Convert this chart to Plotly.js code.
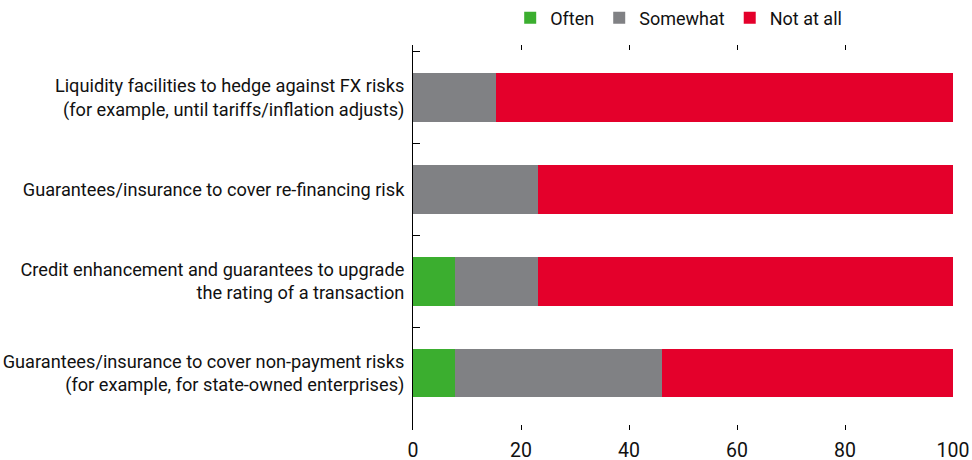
<!DOCTYPE html>
<html>
<head>
<meta charset="utf-8">
<script src="https://cdn.plot.ly/plotly-3.0.1.min.js"></script>
<style>html,body{margin:0;padding:0;background:#fff;}#chart{width:972px;height:460px;}</style>
</head>
<body>
<div id="chart"></div>
<script>
const categories = [
  "Liquidity facilities to hedge against FX risks<br>(for example, until tariffs/inflation adjusts)",
  "Guarantees/insurance to cover re-financing risk",
  "Credit enhancement and guarantees to upgrade<br>the rating of a transaction",
  "Guarantees/insurance to cover non-payment risks<br>(for example, for state-owned enterprises)"
];
const often = [0, 0, 7.7, 7.7];
const somewhat = [15.4, 23.1, 15.4, 38.5];
const notAtAll = [84.6, 76.9, 76.9, 53.8];
const xTicks = [0, 20, 40, 60, 80, 100];

const FONT = 'Roboto, "DejaVu Sans Condensed", Arial, sans-serif';

function mk(name, vals, color) {
  return {type: 'bar', orientation: 'h', name: name, x: vals, y: categories,
          marker: {color: color, line: {width: 0}}, hoverinfo: 'x+name'};
}
const data = [
  mk('Often', often, '#3BAE2F'),
  mk('Somewhat', somewhat, '#808184'),
  mk('Not at all', notAtAll, '#E4002B')
];
const layout = {
  width: 972, height: 460,
  margin: {l: 413, r: 19, t: 45, b: 30, autoexpand: false},
  barmode: 'stack',
  bargap: 0.47,
  paper_bgcolor: '#fff', plot_bgcolor: '#fff',
  font: {family: FONT, size: 18, color: '#111'},
  showlegend: true,
  legend: {orientation: 'h', x: 0.18, xanchor: 'left', y: 1.07, yanchor: 'middle',
           font: {family: FONT, size: 18, color: '#111'}, traceorder: 'normal',
           itemclick: false, itemdoubleclick: false},
  xaxis: {range: [0, 100], tickvals: xTicks, ticktext: xTicks.map(String),
          ticks: 'inside', ticklen: 5, tickwidth: 1, tickcolor: '#000',
          mirror: 'ticks', showline: false, showgrid: false, zeroline: false,
          ticklabelstandoff: 6, automargin: false,
          tickfont: {family: FONT, size: 19.5, color: '#111'}, fixedrange: true},
  yaxis: {type: 'category', categoryarray: categories, categoryorder: 'array',
          range: [3.62, -0.57], tickson: 'boundaries', ticks: 'inside', ticklen: 7,
          tickwidth: 1, tickcolor: '#000', showline: true, linecolor: '#000', linewidth: 1,
          showgrid: false, zeroline: false, ticklabelstandoff: 4, automargin: false,
          tickfont: {family: FONT, size: 18.2, color: '#111'}, fixedrange: true}
};
Plotly.newPlot('chart', data, layout, {displayModeBar: false, staticPlot: true});
</script>
</body>
</html>
